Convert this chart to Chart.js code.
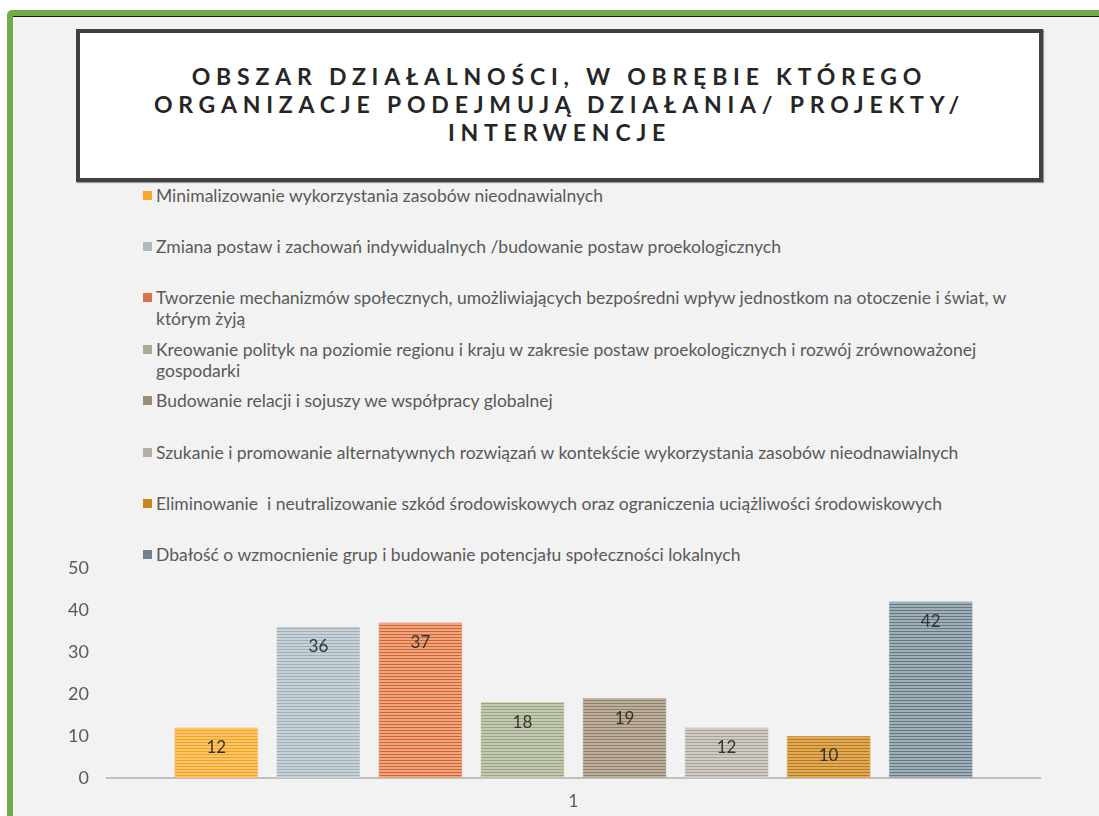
<!DOCTYPE html>
<html>
<head>
<meta charset="utf-8">
<script src="https://cdn.jsdelivr.net/npm/chart.js@4.4.1/dist/chart.umd.min.js"></script>
<style>
    html, body { margin: 0; padding: 0; background: #fff; }
    body { width: 1099px; height: 816px; position: relative; overflow: hidden; font-family: Lato, "Noto Sans", sans-serif; }
    .frame { position: absolute; left: 7px; top: 10px; width: 1100px; height: 820px; background: #70ad47; border-top-left-radius: 5px; }
    .page { position: absolute; left: 13px; top: 16px; right: 0; bottom: 0; background: #f2f2f2; border-top: 1px solid #1a1a1a; }
    .title-box { position: absolute; left: 76px; top: 29px; width: 959px; height: 145px; background: #fff; border: 4px solid #404040; box-shadow: 1px 1px 1px #999; }
    .title-box h1 { margin: 0; position: absolute; left: 0; right: 0; top: 29px; text-align: center; font-size: 23px; line-height: 28px; font-weight: 700; letter-spacing: 5.8px; color: #262626; }
    .legend { position: absolute; left: 143px; top: 0; }
    .legend .item { position: absolute; left: 0; white-space: pre; font-size: 17.5px; line-height: 21px; color: #595959; }
    .legend .sw { position: absolute; left: 0; top: 6px; width: 9px; height: 9px; }
    .legend .txt { position: absolute; left: 13px; top: 0; }
    #chartWrap { position: absolute; left: 0; top: 547px; width: 1099px; height: 269px; }
</style>
</head>
<body>
<div class="frame"></div>
<div class="page"></div>
<div class="title-box"><h1>OBSZAR DZIAŁALNOŚCI, W OBRĘBIE KTÓREGO<br>ORGANIZACJE PODEJMUJĄ DZIAŁANIA/ PROJEKTY/<br>INTERWENCJE</h1></div>
<div class="legend" id="legend"></div>
<div id="chartWrap"><canvas id="chart" width="1099" height="269"></canvas></div>
<script>
const categories = ['1'];

const seriesNames = [
    'Minimalizowanie wykorzystania zasobów nieodnawialnych',
    'Zmiana postaw i zachowań indywidualnych /budowanie postaw proekologicznych',
    'Tworzenie mechanizmów społecznych, umożliwiających bezpośredni wpływ jednostkom na otoczenie i świat, w\nktórym żyją',
    'Kreowanie polityk na poziomie regionu i kraju w zakresie postaw proekologicznych i rozwój zrównoważonej\ngospodarki',
    'Budowanie relacji i sojuszy we współpracy globalnej',
    'Szukanie i promowanie alternatywnych rozwiązań w kontekście wykorzystania zasobów nieodnawialnych',
    'Eliminowanie  i neutralizowanie szkód środowiskowych oraz ograniczenia uciążliwości środowiskowych',
    'Dbałość o wzmocnienie grup i budowanie potencjału społeczności lokalnych'
];

const seriesValues = [12, 36, 37, 18, 19, 12, 10, 42];

const yTicks = [0, 10, 20, 30, 40, 50];

// light / dark stripe colours, plus swatch colour
const lightColors = ['#fbc46a', '#c6d2d7', '#eba784', '#c3c9b0', '#bcb09d', '#cfcac2', '#ddab60', '#a1b0b8'];
const darkColors = ['#f5a21c', '#9fb0b9', '#d9652d', '#9ba482', '#8f7f68', '#a9a399', '#c27a10', '#627783'];
const swatchColors = ['#f8a72a', '#a9bac3', '#d9714a', '#a7ad8e', '#9b8c76', '#b5afa5', '#c9861d', '#6f838e'];

function stripes(light, dark) {
    let c = document.createElement('canvas')
    c.width = 4
    c.height = 3
    let g = c.getContext('2d')
    g.fillStyle = light
    g.fillRect(0, 0, 4, 3)
    g.fillStyle = dark
    g.fillRect(0, 0, 4, 1)
    return g.createPattern(c, 'repeat')
}

// legend
let legend = document.getElementById('legend')
for (let i = 0; i < seriesNames.length; i += 1) {
    let item = document.createElement('div')
    item.className = 'item'
    item.style.top = (184.5 + i * 51.4) + 'px'
    let sw = document.createElement('span')
    sw.className = 'sw'
    sw.style.background = swatchColors[i]
    let txt = document.createElement('span')
    txt.className = 'txt'
    txt.textContent = seriesNames[i]
    item.appendChild(sw)
    item.appendChild(txt)
    legend.appendChild(item)
}

const valueLabels = {
    id: 'valueLabels',
    afterDatasetsDraw(chart) {
        let ctx = chart.ctx
        ctx.save()
        ctx.font = '17px Lato, sans-serif'
        ctx.fillStyle = '#333333'
        ctx.textAlign = 'center'
        ctx.textBaseline = 'middle'
        chart.data.datasets.forEach(function(ds, i) {
            chart.getDatasetMeta(i).data.forEach(function(bar, j) {
                ctx.fillText(ds.data[j], bar.x, bar.y + 20)
            })
        })
        ctx.restore()
    }
};

const ctx = document.getElementById('chart').getContext('2d');
const myChart = new Chart(ctx, {
    type: 'bar',
    data: {
        labels: categories,
        datasets: seriesValues.map(function(v, i) {
            return {
                label: seriesNames[i],
                data: [v],
                backgroundColor: stripes(lightColors[i], darkColors[i]),
                borderColor: darkColors[i],
                borderWidth: 0.5,
                categoryPercentage: 0.875,
                barPercentage: 0.82
            }
        })
    },
    options: {
        responsive: false,
        animation: false,
        layout: { padding: { top: 20, right: 59, left: 0, bottom: 0 } },
        plugins: {
            legend: { display: false },
            tooltip: { enabled: false }
        },
        scales: {
            x: {
                grid: { display: false },
                border: { color: '#bfbfbf', width: 2 },
                ticks: { color: '#595959', font: { family: 'Lato', size: 17 }, padding: 5 },
                afterFit: function(s) { s.height = 38 }
            },
            y: {
                min: 0,
                max: 50,
                afterBuildTicks: function(s) { s.ticks = yTicks.map(function(v) { return { value: v } }) },
                grid: { display: false },
                border: { display: false },
                ticks: { color: '#595959', font: { family: 'Lato', size: 18 }, padding: 10 },
                afterFit: function(s) { s.width = 107 }
            }
        }
    },
    plugins: [valueLabels]
});
</script>
</body>
</html>
